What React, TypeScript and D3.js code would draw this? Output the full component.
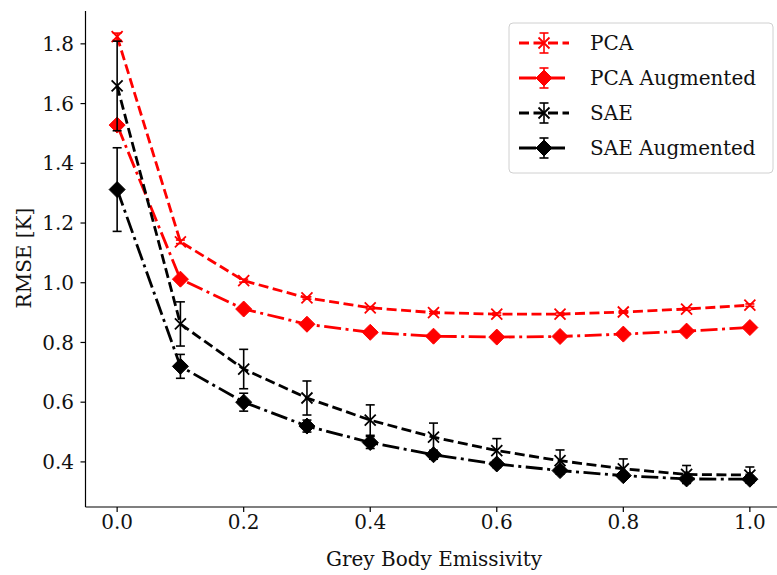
import React from "react";
import * as d3 from "d3";

const xs = [0.0, 0.1, 0.2, 0.3, 0.4, 0.5, 0.6, 0.7, 0.8, 0.9, 1.0];
const pca = [1.824, 1.137, 1.007, 0.949, 0.916, 0.900, 0.895, 0.895, 0.902, 0.912, 0.925];
const pcaErr = [0.012, 0.006, 0.005, 0.004, 0.004, 0.004, 0.004, 0.004, 0.004, 0.004, 0.004];
const pcaAug = [1.528, 1.012, 0.912, 0.861, 0.834, 0.821, 0.818, 0.820, 0.828, 0.838, 0.850];
const pcaAugErr = [0.008, 0.005, 0.004, 0.004, 0.004, 0.004, 0.004, 0.004, 0.004, 0.004, 0.004];
const sae = [1.659, 0.862, 0.711, 0.614, 0.540, 0.483, 0.438, 0.404, 0.377, 0.358, 0.356];
const saeErr = [0.150, 0.074, 0.066, 0.057, 0.051, 0.047, 0.040, 0.036, 0.033, 0.030, 0.027];
const saeAug = [1.312, 0.720, 0.600, 0.520, 0.465, 0.424, 0.393, 0.371, 0.354, 0.343, 0.342];
const saeAugErr = [0.140, 0.040, 0.030, 0.020, 0.020, 0.015, 0.012, 0.012, 0.010, 0.010, 0.010];
const xTicks = [0.0, 0.2, 0.4, 0.6, 0.8, 1.0];
const yTicks = [0.4, 0.6, 0.8, 1.0, 1.2, 1.4, 1.6, 1.8];

const seriesNames = ["PCA", "PCA Augmented", "SAE", "SAE Augmented"];
const seriesVals = [pca, pcaAug, sae, saeAug];
const seriesErrs = [pcaErr, pcaAugErr, saeErr, saeAugErr];
const seriesColors = ["#ff0000", "#ff0000", "#000000", "#000000"];
const seriesMarkers = ["x", "D", "x", "D"];
const seriesDash = ["10,4.5", "17,4.5,3,4.5", "10,4.5", "17,4.5,3,4.5"];

const W = 777, H = 575;
const FONT = "DejaVu Serif";
const FS = 20;

const x = d3.scaleLinear().domain([-0.05, 1.05]).range([85.5, 781.5]);
const y = d3.scaleLinear().domain([0.249, 1.91]).range([507, 11]);

function Marker({ kind, cx, cy, color }: { kind: string; cx: number; cy: number; color: string }) {
  if (kind === "x") {
    const r = 5.5;
    return (
      <path
        d={`M${cx - r},${cy - r}L${cx + r},${cy + r}M${cx - r},${cy + r}L${cx + r},${cy - r}`}
        stroke={color}
        strokeWidth={1.8}
        fill="none"
      />
    );
  }
  const r = 8;
  return (
    <path
      d={`M${cx},${cy - r}L${cx + r},${cy}L${cx},${cy + r}L${cx - r},${cy}Z`}
      fill={color}
      stroke={color}
      strokeWidth={1}
    />
  );
}

export default function App() {
  const line = d3
    .line<[number, number]>()
    .x((d) => x(d[0]))
    .y((d) => y(d[1]));

  const legX = 509, legY = 23, legW = 264, legH = 150;
  const rowY = [43, 78, 113, 148];

  return (
    <svg width={W} height={H} style={{ position: "absolute", left: 0, top: 0 }} fontFamily={FONT}>
      <rect width={W} height={H} fill="#fff" />
      {seriesVals.map((vals, si) => {
        const color = seriesColors[si];
        const pts = xs.map((xv, i) => [xv, vals[i]] as [number, number]);
        return (
          <g key={si}>
            <path d={line(pts) || ""} fill="none" stroke={color} strokeWidth={2.8} strokeDasharray={seriesDash[si]} />
            {xs.map((xv, i) => {
              const e = seriesErrs[si][i];
              const px = x(xv);
              const y1 = y(vals[i] + e), y2 = y(vals[i] - e);
              return (
                <g key={i} stroke={color} strokeWidth={1.6}>
                  <line x1={px} x2={px} y1={y1} y2={y2} />
                  <line x1={px - 4.5} x2={px + 4.5} y1={y1} y2={y1} />
                  <line x1={px - 4.5} x2={px + 4.5} y1={y2} y2={y2} />
                </g>
              );
            })}
            {xs.map((xv, i) => (
              <Marker key={"m" + i} kind={seriesMarkers[si]} cx={x(xv)} cy={y(vals[i])} color={color} />
            ))}
          </g>
        );
      })}

      <line x1={85.5} x2={85.5} y1={11} y2={507} stroke="#000" strokeWidth={1.2} />
      <line x1={85.5} x2={782} y1={507} y2={507} stroke="#000" strokeWidth={1.2} />
      {yTicks.map((t) => (
        <g key={t}>
          <line x1={80.5} x2={85.5} y1={y(t)} y2={y(t)} stroke="#000" strokeWidth={1.2} />
          <text x={74} y={y(t)} dy="0.36em" textAnchor="end" fontSize={FS} fill="#111">
            {t.toFixed(1)}
          </text>
        </g>
      ))}
      {xTicks.map((t) => (
        <g key={t}>
          <line x1={x(t)} x2={x(t)} y1={507} y2={512} stroke="#000" strokeWidth={1.2} />
          <text x={x(t)} y={529} textAnchor="middle" fontSize={FS} fill="#111">
            {t.toFixed(1)}
          </text>
        </g>
      ))}
      <text x={434} y={566} textAnchor="middle" fontSize={FS} fill="#111">
        Grey Body Emissivity
      </text>
      <text transform={`translate(31,258) rotate(-90)`} textAnchor="middle" fontSize={FS} fill="#111">
        RMSE [K]
      </text>

      <rect x={legX} y={legY} width={legW} height={legH} rx={4} fill="#fff" fillOpacity={0.8} stroke="#d0d0d0" strokeWidth={1} />
      {seriesNames.map((name, si) => {
        const cy = rowY[si];
        const color = seriesColors[si];
        return (
          <g key={name}>
            <line x1={519} x2={569} y1={cy} y2={cy} stroke={color} strokeWidth={2.8} strokeDasharray={seriesDash[si]} />
            <line x1={544} x2={544} y1={cy - 10} y2={cy + 10} stroke={color} strokeWidth={1.6} />
            <line x1={539.5} x2={548.5} y1={cy - 10} y2={cy - 10} stroke={color} strokeWidth={1.6} />
            <line x1={539.5} x2={548.5} y1={cy + 10} y2={cy + 10} stroke={color} strokeWidth={1.6} />
            <Marker kind={seriesMarkers[si]} cx={544} cy={cy} color={color} />
            <text x={590} y={cy} dy="0.36em" fontSize={FS} fill="#111">
              {name}
            </text>
          </g>
        );
      })}
    </svg>
  );
}
